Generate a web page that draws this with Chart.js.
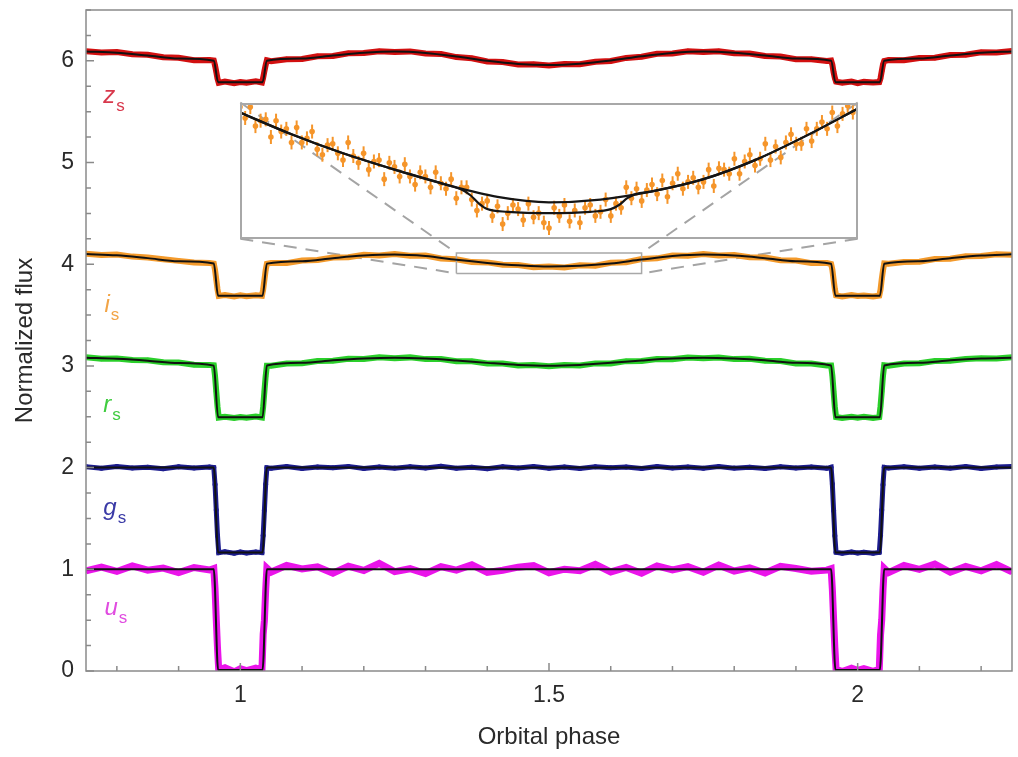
<!DOCTYPE html>
<html>
<head>
<meta charset="utf-8">
<script src="https://cdn.jsdelivr.net/npm/chart.js@4.4.1/dist/chart.umd.min.js"></script>
<style>
  body { margin: 0; background: #fff; }
  #wrap { position: relative; width: 1018px; height: 757px; }
  #inset { position: absolute; }
</style>
</head>
<body>
<div id="wrap">
  <canvas id="lightCurves" width="1018" height="757"></canvas>
  <canvas id="inset"></canvas>
</div>
<script>
// observed points (phase shared by all five bands)
const phase = [0.75, 0.775, 0.8, 0.825, 0.85, 0.875, 0.9, 0.925, 0.95,
  0.957, 0.959, 0.961, 0.963, 0.965, 0.975, 0.99, 1.0, 1.01, 1.025, 1.035, 1.037, 1.039, 1.041, 1.043,
  1.05, 1.075, 1.1, 1.125, 1.15, 1.175, 1.2, 1.225, 1.25, 1.275,
  1.3, 1.325, 1.35, 1.375, 1.4, 1.425, 1.45, 1.475, 1.5, 1.525,
  1.55, 1.575, 1.6, 1.625, 1.65, 1.675, 1.7, 1.725, 1.75, 1.775,
  1.8, 1.825, 1.85, 1.875, 1.9, 1.925, 1.95,
  1.957, 1.959, 1.961, 1.963, 1.965, 1.975, 1.99, 2.0, 2.01, 2.025, 2.035, 2.037, 2.039, 2.041, 2.043,
  2.05, 2.075, 2.1, 2.125, 2.15, 2.175, 2.2, 2.225, 2.25];

const zFlux = [6.095, 6.082, 6.087, 6.064, 6.060, 6.035, 6.031, 6.006, 6.008,
  6.004, 5.955, 5.893, 5.826, 5.784, 5.797, 5.780, 5.792, 5.785, 5.798, 5.787, 5.834, 5.900, 5.958, 6.006,
  5.997, 6.016, 6.018, 6.045, 6.047, 6.074, 6.077, 6.095, 6.086, 6.093,
  6.072, 6.068, 6.037, 6.026, 5.994, 5.989, 5.964, 5.967, 5.955, 5.969,
  5.966, 5.991, 5.998, 6.029, 6.040, 6.069, 6.073, 6.094, 6.087, 6.095,
  6.075, 6.072, 6.047, 6.043, 6.016, 6.015, 5.998,
  6.003, 5.962, 5.889, 5.832, 5.795, 5.784, 5.796, 5.781, 5.793, 5.786, 5.791, 5.828, 5.897, 5.963, 5.998,
  6.008, 6.005, 6.027, 6.031, 6.058, 6.061, 6.085, 6.083, 6.097];

const iFlux = [4.104, 4.092, 4.095, 4.075, 4.066, 4.048, 4.033, 4.018, 4.012,
  4.006, 3.944, 3.851, 3.754, 3.688, 3.697, 3.683, 3.694, 3.686, 3.695, 3.689, 3.752, 3.846, 3.942, 4.004,
  4.013, 4.011, 4.037, 4.041, 4.066, 4.069, 4.092, 4.087, 4.101, 4.084,
  4.086, 4.057, 4.049, 4.021, 4.018, 3.995, 3.993, 3.971, 3.978, 3.969,
  3.990, 3.986, 4.015, 4.020, 4.052, 4.058, 4.087, 4.083, 4.101, 4.086,
  4.091, 4.068, 4.066, 4.039, 4.036, 4.011, 4.013,
  4.002, 3.948, 3.848, 3.757, 3.694, 3.684, 3.696, 3.687, 3.693, 3.684, 3.692, 3.749, 3.853, 3.938, 4.008,
  4.004, 4.022, 4.024, 4.052, 4.055, 4.079, 4.081, 4.098, 4.093];

const rFlux = [3.086, 3.071, 3.074, 3.058, 3.056, 3.036, 3.033, 3.012, 3.010,
  3.006, 2.902, 2.748, 2.601, 2.492, 2.501, 2.489, 2.498, 2.490, 2.502, 2.493, 2.598, 2.752, 2.897, 3.002,
  3.002, 3.024, 3.026, 3.049, 3.050, 3.071, 3.068, 3.085, 3.075, 3.084,
  3.067, 3.069, 3.047, 3.046, 3.025, 3.024, 3.004, 3.010, 2.996, 3.009,
  3.005, 3.025, 3.024, 3.047, 3.048, 3.069, 3.066, 3.083, 3.076, 3.083,
  3.067, 3.070, 3.050, 3.048, 3.025, 3.023, 3.003,
  3.003, 2.906, 2.752, 2.596, 2.497, 2.488, 2.500, 2.491, 2.499, 2.487, 2.496, 2.603, 2.747, 2.902, 3.006,
  3.002, 3.024, 3.026, 3.049, 3.051, 3.068, 3.075, 3.074, 3.085];

const gFlux = [2.008, 1.993, 2.011, 1.996, 2.004, 1.990, 2.009, 1.997, 2.006,
  2.001, 1.834, 1.583, 1.332, 1.163, 1.172, 1.158, 1.169, 1.161, 1.170, 1.164, 1.332, 1.580, 1.836, 1.998,
  1.994, 2.010, 1.992, 2.007, 1.998, 2.012, 1.991, 2.006, 1.995, 2.009,
  1.997, 2.013, 1.993, 2.004, 1.990, 2.008, 1.996, 2.011, 1.994, 2.006,
  1.992, 2.009, 1.998, 2.005, 1.991, 2.010, 1.996, 2.007, 1.993, 2.011,
  1.995, 2.004, 1.992, 2.008, 1.997, 2.006, 1.993,
  2.004, 1.838, 1.578, 1.329, 1.167, 1.158, 1.170, 1.160, 1.168, 1.157, 1.166, 1.335, 1.584, 1.831, 2.003,
  1.996, 2.009, 1.993, 2.007, 1.995, 2.011, 1.992, 2.005, 2.010];

const uFlux = [0.986, 1.021, 0.979, 1.034, 0.991, 1.012, 0.968, 1.018, 0.993,
  1.008, 0.812, 0.508, 0.228, 0.012, 0.031, -0.008, 0.022, 0.004, 0.028, 0.009, 0.362, 0.497, 0.788, 1.012,
  0.973, 1.039, 1.004, 1.024, 0.962, 1.031, 0.989, 1.058, 0.977, 1.006,
  0.958, 1.027, 0.992, 1.044, 0.969, 0.991, 1.021, 1.036, 0.966, 1.001,
  0.987, 1.048, 0.974, 1.019, 0.961, 1.033, 0.995, 1.026, 0.971, 1.041,
  0.983, 1.015, 0.964, 1.029, 1.008, 0.982, 0.992,
  1.006, 0.802, 0.512, 0.236, 0.018, -0.006, 0.027, 0.006, 0.024, -0.004, 0.016, 0.351, 0.503, 0.796, 1.009,
  0.968, 1.037, 0.999, 1.052, 0.971, 1.028, 0.985, 1.046, 0.976];

// model light curves (black lines)
const modelPhase = [0.75, 0.8, 0.85, 0.9, 0.957, 0.964, 1.036, 1.043,
  1.1, 1.15, 1.2, 1.25, 1.3, 1.35, 1.4, 1.45, 1.5, 1.55, 1.6, 1.65, 1.7, 1.75, 1.8, 1.85, 1.9,
  1.957, 1.964, 2.036, 2.043, 2.1, 2.15, 2.2, 2.25];
const zModel = [6.092, 6.080, 6.052, 6.022, 6.001, 5.790, 5.790, 6.001,
  6.022, 6.052, 6.080, 6.092, 6.078, 6.043, 6.000, 5.970, 5.960, 5.972, 6.003, 6.045, 6.078, 6.092, 6.080, 6.052, 6.022,
  6.001, 5.790, 5.790, 6.001, 6.022, 6.052, 6.080, 6.092];
const iModel = [4.100, 4.088, 4.060, 4.030, 4.008, 3.690, 3.690, 4.006,
  4.030, 4.060, 4.085, 4.095, 4.080, 4.043, 4.013, 3.990, 3.977, 3.985, 4.008, 4.046, 4.080, 4.095, 4.085, 4.060, 4.030,
  4.005, 3.690, 3.690, 4.005, 4.030, 4.060, 4.085, 4.097];
const rModel = [3.080, 3.070, 3.052, 3.028, 3.003, 2.495, 2.495, 3.005,
  3.030, 3.055, 3.073, 3.080, 3.072, 3.053, 3.030, 3.010, 3.002, 3.010, 3.030, 3.053, 3.072, 3.080, 3.072, 3.055, 3.030,
  3.004, 2.495, 2.495, 3.004, 3.030, 3.055, 3.072, 3.080];
const gModel = [2, 2, 2, 2, 2, 1.165, 1.165, 2,
  2, 2, 2, 2, 2, 2, 2, 2, 2, 2, 2, 2, 2, 2, 2, 2, 2,
  2, 1.165, 1.165, 2, 2, 2, 2, 2];
const uModel = [1, 1, 1, 1, 1, 0.01, 0.01, 1,
  1, 1, 1, 1, 1, 1, 1, 1, 1, 1, 1, 1, 1, 1, 1, 1, 1,
  1, 0.01, 0.01, 1, 1, 1, 1, 1];

// zoomed i_s data around phase 1.5 (inset)
const insetPhase = [1.35, 1.3525, 1.355, 1.3575, 1.36, 1.3625, 1.365, 1.3675, 1.37, 1.3725,
  1.375, 1.3775, 1.38, 1.3825, 1.385, 1.3875, 1.39, 1.3925, 1.395, 1.3975,
  1.4, 1.4025, 1.405, 1.4075, 1.41, 1.4125, 1.415, 1.4175, 1.42, 1.4225,
  1.425, 1.4275, 1.43, 1.4325, 1.435, 1.4375, 1.44, 1.4425, 1.445, 1.4475,
  1.45, 1.4525, 1.455, 1.4575, 1.46, 1.4625, 1.465, 1.4675, 1.47, 1.4725,
  1.475, 1.4775, 1.48, 1.4825, 1.485, 1.4875, 1.49, 1.4925, 1.495, 1.4975,
  1.5, 1.5025, 1.505, 1.5075, 1.51, 1.5125, 1.515, 1.5175, 1.52, 1.5225,
  1.525, 1.5275, 1.53, 1.5325, 1.535, 1.5375, 1.54, 1.5425, 1.545, 1.5475,
  1.55, 1.5525, 1.555, 1.5575, 1.56, 1.5625, 1.565, 1.5675, 1.57, 1.5725,
  1.575, 1.5775, 1.58, 1.5825, 1.585, 1.5875, 1.59, 1.5925, 1.595, 1.5975,
  1.6, 1.6025, 1.605, 1.6075, 1.61, 1.6125, 1.615, 1.6175, 1.62, 1.6225,
  1.625, 1.6275, 1.63, 1.6325, 1.635, 1.6375, 1.64, 1.6425, 1.645, 1.6475, 1.65];
const insetFlux = [4.047, 4.039, 4.047, 4.033, 4.037, 4.038, 4.025, 4.037, 4.029, 4.031,
  4.021, 4.032, 4.021, 4.024, 4.029, 4.016, 4.012, 4.019, 4.020, 4.013,
  4.008, 4.021, 4.011, 4.006, 4.013, 4.001, 4.007, 4.008, 3.994, 4.006,
  4.003, 3.996, 4.005, 3.996, 3.990, 3.999, 3.996, 3.988, 3.999, 3.991,
  3.987, 3.994, 3.980, 3.988, 3.988, 3.979, 3.971, 3.976, 3.978, 3.967,
  3.974, 3.961, 3.969, 3.975, 3.972, 3.964, 3.976, 3.966, 3.969, 3.962,
  3.958, 3.973, 3.967, 3.975, 3.963, 3.971, 3.962, 3.973, 3.975, 3.967,
  3.970, 3.979, 3.967, 3.976, 3.973, 3.988, 3.980, 3.987, 3.978, 3.986,
  3.990, 3.983, 3.993, 3.981, 3.991, 3.998, 3.987, 3.992, 3.995, 3.988,
  3.992, 4.001, 3.989, 4.002, 4.001, 3.998, 4.009, 3.998, 4.007, 4.012,
  4.004, 4.009, 4.020, 4.008, 4.018, 4.010, 4.021, 4.027, 4.020, 4.020,
  4.031, 4.022, 4.031, 4.036, 4.031, 4.043, 4.033, 4.042, 4.048, 4.043, 4.049];
const insetModelPhase = [1.35, 1.375, 1.4, 1.425, 1.45, 1.475, 1.5, 1.525, 1.55, 1.575, 1.6, 1.625, 1.65];
const insetModel = [4.043, 4.027, 4.013, 4.001, 3.990, 3.981, 3.977, 3.979, 3.985, 3.994, 4.008, 4.026, 4.046];
const insetEclPhase = [1.35, 1.375, 1.4, 1.425, 1.45, 1.458, 1.462, 1.466, 1.47, 1.48, 1.5, 1.52, 1.53, 1.534, 1.538, 1.542, 1.55, 1.575, 1.6, 1.625, 1.65];
const insetEclModel = [4.043, 4.027, 4.013, 4.001, 3.990, 3.986, 3.982, 3.976, 3.972, 3.970, 3.969, 3.970, 3.972, 3.975, 3.980, 3.983, 3.985, 3.994, 4.008, 4.026, 4.046];

// axes
const xTicks = [1, 1.5, 2];
const yTicks = [0, 1, 2, 3, 4, 5, 6];

// zoom box on the i_s curve and where the inset sits (main-chart units)
const zoomPhase = [1.35, 1.65];
const zoomFlux = [3.91, 4.11];
const insetBoxPhase = [1.0, 2.0];
const insetBoxFlux = [4.25, 5.59];
const insetFluxRange = [3.95, 4.05];

const FONT = '"Liberation Sans", Arial, Helvetica, sans-serif';
const TEXT = '#2a2a2a';

const bands = [
  { name: 'z', flux: zFlux, model: zModel, color: '#d21010', labelColor: '#d8384c', width: 6, lx: 0.778, ly: 5.586 },
  { name: 'i', flux: iFlux, model: iModel, color: '#f39a2c', labelColor: '#f2a446', width: 6, lx: 0.780, ly: 3.53 },
  { name: 'r', flux: rFlux, model: rModel, color: '#2bcf2b', labelColor: '#3fcc3f', width: 6, lx: 0.778, ly: 2.547 },
  { name: 'g', flux: gFlux, model: gModel, color: '#1c1c8e', labelColor: '#3a3aa6', width: 5, lx: 0.778, ly: 1.534 },
  { name: 'u', flux: uFlux, model: uModel, color: '#ea14ea', labelColor: '#e04ce0', width: 7, lx: 0.780, ly: 0.551 }
];

function pts(xs, ys) { return xs.map((x, i) => ({ x: x, y: ys[i] })); }

const datasets = [];
bands.forEach(b => {
  datasets.push({
    label: b.name + ' model', data: pts(modelPhase, b.model),
    borderColor: '#111', borderWidth: 2, pointRadius: 0,
    cubicInterpolationMode: 'monotone', order: 0
  });
  datasets.push({
    label: b.name + 's', data: pts(phase, b.flux),
    borderColor: b.color, backgroundColor: b.color, borderWidth: b.width,
    pointRadius: 2.5, pointBorderWidth: 0, order: 3
  });
});

// zoom box and connector lines
const boxData = [
  { x: zoomPhase[0], y: zoomFlux[0] }, { x: zoomPhase[1], y: zoomFlux[0] },
  { x: zoomPhase[1], y: zoomFlux[1] }, { x: zoomPhase[0], y: zoomFlux[1] },
  { x: zoomPhase[0], y: zoomFlux[0] }
];
datasets.push({ label: 'box', data: boxData, borderColor: '#a8a8a8', borderWidth: 1.5, pointRadius: 0, order: 1 });
[[0, 0], [0, 1], [1, 0], [1, 1]].forEach(([ix, iy]) => {
  datasets.push({
    label: 'connector',
    data: [{ x: insetBoxPhase[ix], y: insetBoxFlux[iy] }, { x: zoomPhase[ix], y: zoomFlux[iy] }],
    borderColor: '#a4a4a4', borderWidth: 2, borderDash: [13, 9], pointRadius: 0, order: 4
  });
});

const decorations = {
  id: 'decorations',
  afterDatasetsDraw(chart) {
    const { ctx, chartArea: a, scales: { x, y } } = chart;
    ctx.save();
    ctx.strokeStyle = '#8a8a8a';
    ctx.lineWidth = 1.5;
    ctx.beginPath();
    for (let k = 0; k <= 26; k++) {
      const py = y.getPixelForValue(k / 4);
      const len = k % 4 === 0 ? 8 : 5;
      ctx.moveTo(a.left, py); ctx.lineTo(a.left + len, py);
    }
    for (let k = 8; k <= 22; k++) {
      const px = x.getPixelForValue(k / 10);
      const len = k % 5 === 0 ? 8 : 5;
      ctx.moveTo(px, a.bottom); ctx.lineTo(px, a.bottom - len);
    }
    ctx.stroke();
    ctx.strokeRect(a.left, a.top, a.right - a.left, a.bottom - a.top);

    bands.forEach(b => {
      const px = x.getPixelForValue(b.lx), py = y.getPixelForValue(b.ly);
      ctx.fillStyle = b.labelColor;
      ctx.textBaseline = 'alphabetic';
      ctx.font = 'italic 24px ' + FONT;
      ctx.fillText(b.name, px, py);
      const w = ctx.measureText(b.name).width;
      ctx.font = '17px ' + FONT;
      ctx.fillText('s', px + w + 1, py + 8);
    });
    ctx.restore();
  }
};

const main = new Chart(document.getElementById('lightCurves'), {
  type: 'line',
  data: { datasets: datasets },
  options: {
    responsive: false,
    animation: false,
    layout: { autoPadding: false, padding: { top: 10, right: 6, left: 0, bottom: 0 } },
    plugins: { legend: { display: false }, tooltip: { enabled: false } },
    scales: {
      x: {
        type: 'linear', min: 0.75, max: 2.25,
        afterBuildTicks: s => { s.ticks = xTicks.map(v => ({ value: v })); },
        afterFit: s => { s.height = 86; s.paddingLeft = 0; s.paddingRight = 0; },
        grid: { display: false, drawTicks: false },
        border: { display: false },
        ticks: { padding: 11, color: TEXT, font: { family: FONT, size: 23 }, maxRotation: 0, autoSkip: false, callback: v => String(v) },
        title: { display: true, text: 'Orbital phase', color: TEXT, font: { family: FONT, size: 24 }, padding: { top: 0, bottom: 5 } }
      },
      y: {
        type: 'linear', min: 0, max: 6.5,
        afterBuildTicks: s => { s.ticks = yTicks.map(v => ({ value: v })); },
        afterFit: s => { s.width = 86; s.paddingTop = 0; s.paddingBottom = 0; },
        grid: { display: false, drawTicks: false },
        border: { display: false },
        ticks: { padding: 12, color: TEXT, font: { family: FONT, size: 23 }, callback: v => String(v) },
        title: { display: true, text: 'Normalized flux', color: TEXT, font: { family: FONT, size: 24 }, padding: { top: 11, bottom: 0 } }
      }
    }
  },
  plugins: [decorations]
});

// inset placed over the main chart from its own scales
const mx = main.scales.x, my = main.scales.y;
const iL = Math.round(mx.getPixelForValue(insetBoxPhase[0]));
const iR = Math.round(mx.getPixelForValue(insetBoxPhase[1]));
const iT = Math.round(my.getPixelForValue(insetBoxFlux[1]));
const iB = Math.round(my.getPixelForValue(insetBoxFlux[0]));
const insetCanvas = document.getElementById('inset');
insetCanvas.style.left = iL + 'px';
insetCanvas.style.top = iT + 'px';
insetCanvas.width = iR - iL;
insetCanvas.height = iB - iT;

const insetFrame = {
  id: 'insetFrame',
  afterDraw(chart) {
    const { ctx, width, height } = chart;
    ctx.save();
    ctx.strokeStyle = '#a8a8a8';
    ctx.lineWidth = 2;
    ctx.strokeRect(1, 1, width - 2, height - 2);
    ctx.restore();
  }
};

new Chart(insetCanvas, {
  type: 'line',
  data: {
    datasets: [
      { label: 'model', data: pts(insetModelPhase, insetModel), borderColor: '#151515', borderWidth: 2.2, pointRadius: 0, cubicInterpolationMode: 'monotone', order: 0 },
      { label: 'model + secondary eclipse', data: pts(insetEclPhase, insetEclModel), borderColor: '#151515', borderWidth: 2.2, pointRadius: 0, cubicInterpolationMode: 'monotone', order: 0 },
      { label: 'is', data: pts(insetPhase, insetFlux), showLine: false, pointStyle: 'circle', pointRadius: 2.8, pointBackgroundColor: '#f5952a', pointBorderWidth: 0, order: 1 },
      { label: 'is errors', data: pts(insetPhase, insetFlux), showLine: false, pointStyle: 'line', pointRotation: 90, pointRadius: 7, pointBorderColor: '#f5952a', pointBorderWidth: 2, order: 2 }
    ]
  },
  options: {
    responsive: false,
    animation: false,
    layout: { autoPadding: false, padding: 0 },
    plugins: { legend: { display: false }, tooltip: { enabled: false } },
    scales: {
      x: { type: 'linear', min: zoomPhase[0], max: zoomPhase[1], display: false },
      y: { type: 'linear', min: insetFluxRange[0], max: insetFluxRange[1], display: false }
    }
  },
  plugins: [insetFrame]
});
</script>
</body>
</html>
